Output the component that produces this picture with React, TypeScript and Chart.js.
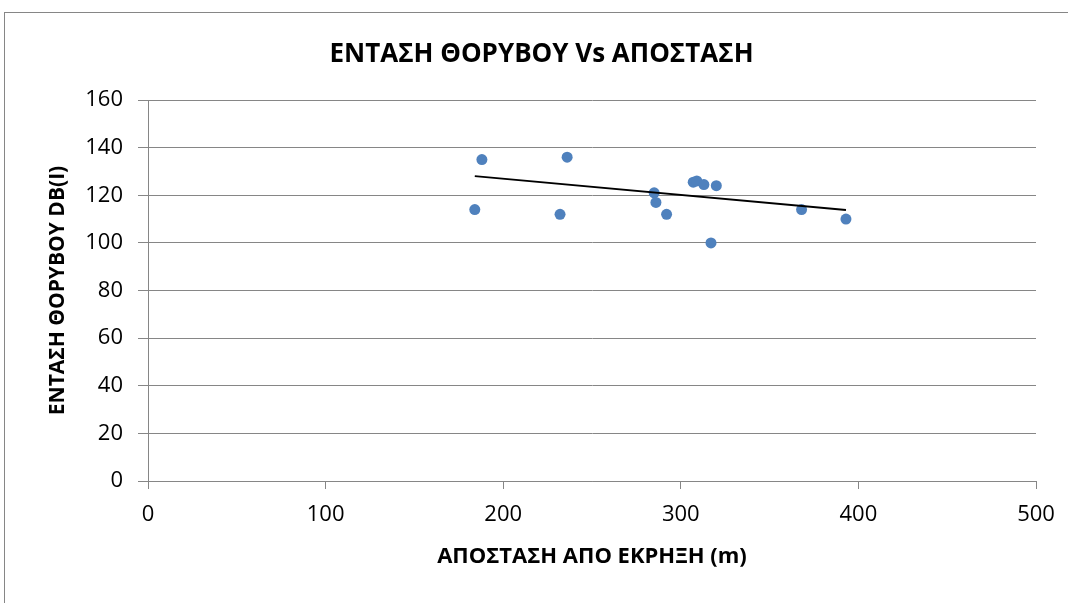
import React, { useEffect, useRef } from "react";
import { Chart, registerables } from "chart.js";

Chart.register(...registerables);

// Data
const distances = [184, 188, 232, 236, 285, 286, 292, 307, 309, 313, 320, 317, 368, 393];
const noiseDb = [114, 135, 112, 136, 121, 117, 112, 125.5, 126, 124.5, 124, 100, 114, 110];
const trendDistances = [184, 393];
const trendDb = [128, 113.8];

const chartTitle = "ΕΝΤΑΣΗ ΘΟΡΥΒΟΥ Vs ΑΠΟΣΤΑΣΗ";
const xTitle = "ΑΠΟΣΤΑΣΗ ΑΠΟ ΕΚΡΗΞΗ (m)";
const yTitle = "ΕΝΤΑΣΗ ΘΟΡΥΒΟΥ DB(I)";

const FONT = "'Open Sans', 'Noto Sans', sans-serif";
const GRID = "#868686";

export default function App() {
  const ref = useRef<HTMLCanvasElement | null>(null);

  useEffect(() => {
    if (!ref.current) return;
    const points = distances.map((x, i) => ({ x, y: noiseDb[i] }));
    const trend = trendDistances.map((x, i) => ({ x, y: trendDb[i] }));
    const chart = new Chart(ref.current, {
      type: "scatter",
      data: {
        datasets: [
          {
            label: "data",
            data: points,
            backgroundColor: "#4F81BD",
            borderColor: "#4F81BD",
            pointRadius: 5.5,
            pointBorderWidth: 0,
            showLine: false,
            order: 2,
          },
          {
            label: "trend",
            data: trend,
            showLine: true,
            borderColor: "#000000",
            borderWidth: 1.8,
            pointRadius: 0,
            fill: false,
            order: 1,
          },
        ],
      },
      options: {
        responsive: false,
        animation: false,
        layout: { padding: { left: 15, right: 0, top: 0, bottom: 0 } },
        plugins: {
          legend: { display: false },
          tooltip: { enabled: false },
          title: {
            display: true,
            text: chartTitle,
            color: "#000",
            font: { family: FONT, size: 26, weight: "bold" },
            padding: { top: 38.5, bottom: 30.3 },
          },
        },
        scales: {
          x: {
            type: "linear",
            position: "bottom",
            min: 0,
            max: 500,
            ticks: {
              stepSize: 100,
              color: "#000",
              padding: 13,
              font: { family: FONT, size: 22 },
            },
            grid: {
              display: true,
              drawOnChartArea: false,
              drawTicks: true,
              tickLength: 8,
              color: GRID,
            },
            border: { display: true, color: GRID, width: 1 },
            title: {
              display: true,
              text: xTitle,
              color: "#000",
              font: { family: FONT, size: 22, weight: "bold" },
              padding: { top: 0, bottom: 32.8 },
            },
            afterFit: (scale: any) => {
              scale.height = 122;
            },
          },
          y: {
            type: "linear",
            position: "left",
            min: 0,
            max: 160,
            ticks: {
              stepSize: 20,
              color: "#000",
              padding: 15,
              font: { family: FONT, size: 22 },
            },
            grid: {
              display: true,
              drawOnChartArea: true,
              drawTicks: true,
              tickLength: 10,
              color: GRID,
            },
            border: { display: true, color: GRID, width: 1 },
            title: {
              display: true,
              text: yTitle,
              color: "#000",
              font: { family: FONT, size: 21, weight: "bold" },
              padding: { top: 30.4, bottom: 0 },
            },
            afterFit: (scale: any) => {
              scale.width = 133;
            },
          },
          rightSpace: {
            type: "linear",
            position: "right",
            display: true,
            ticks: { display: false },
            grid: { display: false, drawTicks: false },
            border: { display: false },
            afterFit: (scale: any) => {
              scale.width = 32;
            },
          },
        },
      },
    } as any);
    return () => chart.destroy();
  }, []);

  return (
    <div
      style={{
        position: "absolute",
        left: 0,
        top: 0,
        width: 1068,
        height: 603,
        overflow: "hidden",
        background: "#fff",
      }}
    >
      <div
        style={{
          position: "absolute",
          left: 4,
          top: 12,
          width: 1100,
          height: 700,
          borderLeft: "1px solid #868686",
          borderTop: "1px solid #868686",
          boxSizing: "border-box",
        }}
      />
      <canvas
        ref={ref}
        width={1068}
        height={603}
        style={{ position: "absolute", left: 0, top: 0, width: 1068, height: 603 }}
      />
    </div>
  );
}
